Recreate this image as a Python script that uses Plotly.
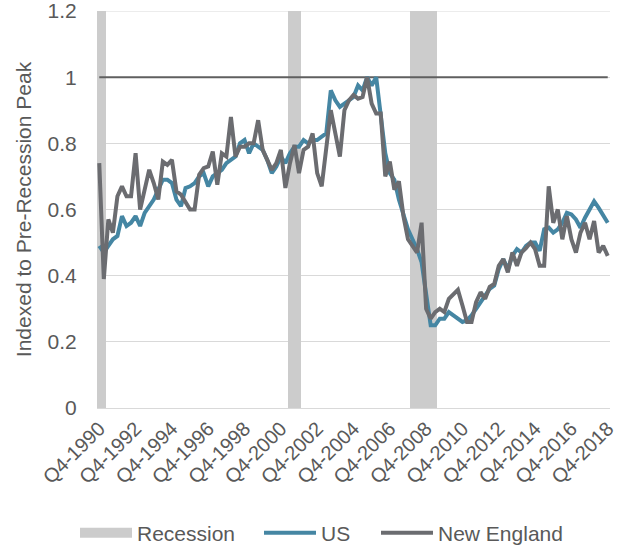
import plotly.graph_objects as go

# Quarter categories Q4-1990 .. Q4-2018
quarters = []
for i in range(113):
    q = (3 + i) % 4 + 1
    yr = 1990 + (3 + i) // 4
    quarters.append(f"Q{q}-{yr}")

tick_labels = quarters[::8]
y_ticks = [0, 0.2, 0.4, 0.6, 0.8, 1.0, 1.2]
y_tick_labels = ["0", "0.2", "0.4", "0.6", "0.8", "1", "1.2"]
y_max = 1.2

recession_quarters = ["Q4-1990", "Q1-1991",
                      "Q2-2001", "Q3-2001", "Q4-2001",
                      "Q1-2008", "Q2-2008", "Q3-2008", "Q4-2008", "Q1-2009", "Q2-2009"]
recession_height = 1.2

peak_level = 1.0

us = [0.49, 0.47, 0.49, 0.51, 0.52, 0.58, 0.55, 0.56, 0.58, 0.55,
      0.59, 0.61, 0.63, 0.66, 0.69, 0.69, 0.68, 0.63, 0.61, 0.665,
      0.67, 0.68, 0.70, 0.71, 0.67, 0.70, 0.71, 0.72, 0.74, 0.75,
      0.76, 0.80, 0.81, 0.77, 0.80, 0.79, 0.78, 0.75, 0.71, 0.73,
      0.76, 0.74, 0.77, 0.79, 0.79, 0.81, 0.80, 0.81, 0.81, 0.82,
      0.83, 0.96, 0.93, 0.91, 0.92, 0.93, 0.94, 0.975, 0.96, 1.0,
      0.975, 1.0, 0.88, 0.77, 0.71, 0.69, 0.63, 0.58, 0.54, 0.51,
      0.48, 0.44, 0.35, 0.25, 0.25, 0.27, 0.27, 0.29, 0.28, 0.27,
      0.26, 0.265, 0.28, 0.30, 0.32, 0.345, 0.36, 0.37, 0.42, 0.45,
      0.42, 0.46, 0.48, 0.47, 0.49, 0.50, 0.50, 0.475, 0.54, 0.545,
      0.53, 0.54, 0.56, 0.59, 0.585, 0.57, 0.545, 0.575, 0.60, 0.625,
      0.605, 0.585, 0.56]

new_england = [0.74, 0.39, 0.57, 0.53, 0.64, 0.67, 0.64, 0.64, 0.77, 0.60,
               0.66, 0.72, 0.68, 0.63, 0.745, 0.735, 0.75, 0.655, 0.645, 0.62,
               0.60, 0.60, 0.705, 0.725, 0.73, 0.775, 0.675, 0.77, 0.76, 0.88,
               0.76, 0.79, 0.79, 0.80, 0.80, 0.87, 0.78, 0.75, 0.72, 0.74,
               0.78, 0.665, 0.74, 0.795, 0.71, 0.78, 0.79, 0.83, 0.71, 0.67,
               0.78, 0.90, 0.83, 0.76, 0.90, 0.93, 0.946, 0.935, 0.94, 1.0,
               0.92, 0.89, 0.89, 0.70, 0.745, 0.66, 0.685, 0.58, 0.51, 0.49,
               0.47, 0.56, 0.30, 0.27, 0.29, 0.30, 0.29, 0.33, 0.345, 0.357,
               0.31, 0.26, 0.26, 0.32, 0.35, 0.33, 0.366, 0.375, 0.43, 0.45,
               0.41, 0.47, 0.43, 0.47, 0.483, 0.50, 0.48, 0.43, 0.43, 0.67,
               0.56, 0.60, 0.51, 0.58, 0.51, 0.47, 0.53, 0.56, 0.51, 0.565,
               0.47, 0.49, 0.46]

FONT = "Liberation Sans, Arial, sans-serif"
TXT = "#595959"
GRID = "#D9D9D9"
REC_COLOR = "#CCCCCC"
US_COLOR = "#4586A3"
NE_COLOR = "#6B6C70"
FS = 21

fig = go.Figure()

fig.add_trace(go.Bar(
    x=recession_quarters, y=[recession_height] * len(recession_quarters),
    width=1, marker=dict(color=REC_COLOR, line=dict(width=0)),
    showlegend=False, name="Recession", hoverinfo="skip"))

fig.add_trace(go.Scatter(
    x=quarters, y=[peak_level] * len(quarters), mode="lines",
    line=dict(color="#5F5F5F", width=2), showlegend=False, hoverinfo="skip"))

fig.add_trace(go.Scatter(
    x=quarters, y=us, mode="lines", name="US",
    line=dict(color=US_COLOR, width=4), legend="legend2"))

fig.add_trace(go.Scatter(
    x=quarters, y=new_england, mode="lines", name="New England",
    line=dict(color=NE_COLOR, width=4), legend="legend3"))

# legend swatch for recession
fig.add_trace(go.Scatter(
    x=[None], y=[None], mode="lines", name="Recession",
    line=dict(color=REC_COLOR, width=11), legend="legend"))

# top gridline (plotly drops the grid line at the very edge of the range)
fig.add_shape(type="line", xref="paper", yref="y", x0=0, x1=1, y0=y_max, y1=y_max,
              line=dict(color=GRID, width=1), layer="below")

leg_common = dict(orientation="h", yref="container", xref="container",
                  yanchor="middle", y=(547 - 533) / 547, xanchor="left",
                  font=dict(family=FONT, size=FS, color=TXT),
                  bgcolor="rgba(0,0,0,0)", itemwidth=52)

fig.update_layout(
    width=619, height=547,
    margin=dict(l=97, r=9, t=11, b=139, autoexpand=False),
    paper_bgcolor="white", plot_bgcolor="white",
    font=dict(family=FONT, size=FS, color=TXT),
    bargap=0, barmode="overlay",
    showlegend=True,
    legend=dict(x=75 / 619, **leg_common),
    legend2=dict(x=259 / 619, **leg_common),
    legend3=dict(x=376 / 619, **leg_common),
    xaxis=dict(
        type="category", categoryorder="array", categoryarray=quarters,
        range=[-0.5, 112.5], automargin=False,
        tickmode="array", tickvals=tick_labels, ticktext=tick_labels,
        tickangle=-45, tickfont=dict(family=FONT, size=20, color=TXT),
        showgrid=False, showline=True, linecolor=GRID, linewidth=1,
        ticks="", zeroline=False),
    yaxis=dict(
        range=[0, y_max], automargin=False, ticklabeloverflow="allow",
        tickmode="array", tickvals=y_ticks, ticktext=y_tick_labels,
        showgrid=True, gridcolor=GRID, gridwidth=1,
        zeroline=True, zerolinecolor=GRID, zerolinewidth=1,
        ticks="outside", ticklen=15, tickcolor="rgba(0,0,0,0)",
        tickfont=dict(family=FONT, size=FS, color=TXT),
        title=dict(text="Indexed to Pre-Recession Peak",
                   font=dict(family=FONT, size=FS, color=TXT), standoff=10)),
)

fig.write_html("out.html", config={"displayModeBar": False},
               post_script="document.body.style.margin='0';document.body.style.overflow='hidden';")
